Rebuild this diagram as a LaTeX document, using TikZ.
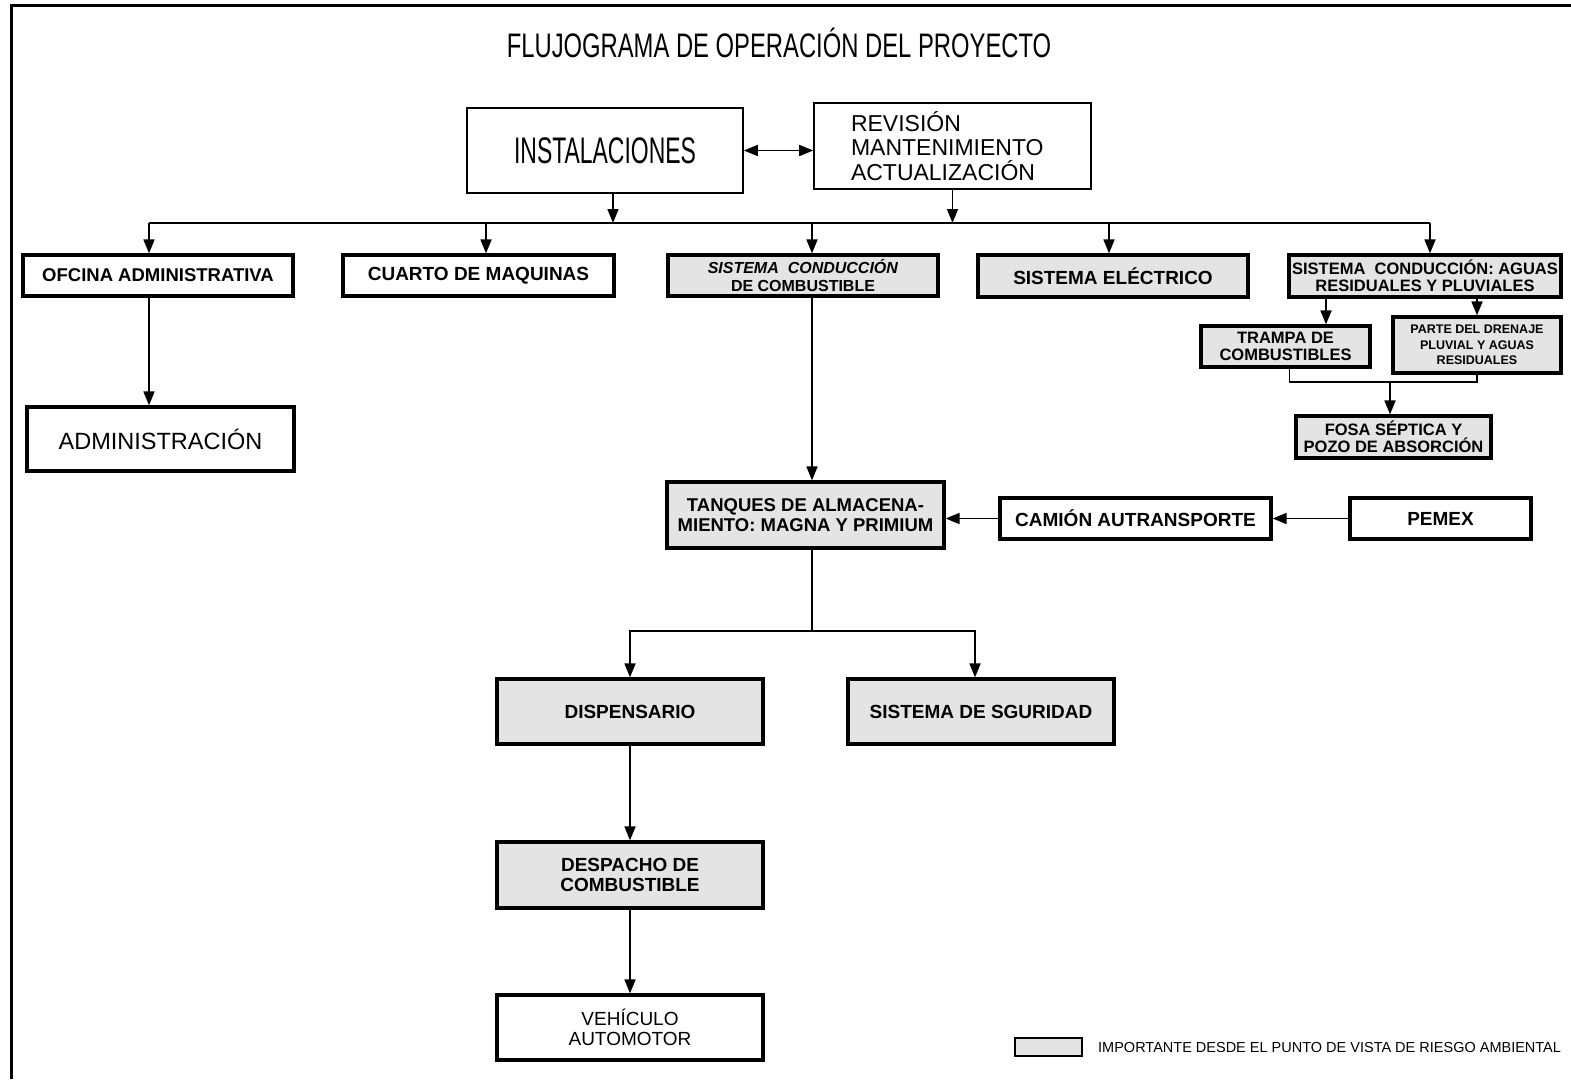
\documentclass[tikz,border=0pt]{standalone}
\usepackage{fontspec}
\setmainfont{Liberation Sans}
\newfontfamily\titlefont[FakeStretch=0.70]{Liberation Sans}
\newfontfamily\bigfont[FakeStretch=0.62]{Liberation Sans}
\usetikzlibrary{arrows.meta}
\definecolor{riskgray}{RGB}{228,228,228}

\begin{document}
\begin{tikzpicture}[x=1pt,y=-1pt]
		\tikzset{box/.style={draw, line width=3.2pt, inner sep=0pt, align=center, font=\bfseries\fontsize{19}{20}\selectfont}}
		\tikzset{risk/.style={box, fill=riskgray}}
		\tikzset{thinbox/.style={draw, line width=1.6pt, inner sep=0pt}}
		\tikzset{edge/.style={->, line width=1.7pt, > = {Triangle[length=14pt,width=11pt]}}}
		\tikzset{link/.style={line width=1.7pt}}
		\useasboundingbox (0,0) rectangle (1571,1079);
		%frame
		\draw[line width=3pt] (11,1079) -- (11,5) -- (1571,5);
		%title
		\node[font=\titlefont\fontsize{34}{36}\selectfont] (title) at (779,43) {FLUJOGRAMA DE OPERACIÓN DEL PROYECTO};
		%vertices
		\node[thinbox, minimum width=276, minimum height=85, font=\bigfont\fontsize{37}{40}\selectfont] (inst) at (605,150.5) {INSTALACIONES};
		\node[thinbox, inner xsep=37pt, text width=203pt, minimum height=86, align=left, font=\fontsize{23}{24.5}\selectfont] (rev) at (952.5,146) {REVISIÓN\\MANTENIMIENTO\\ACTUALIZACIÓN};
		\node[box, minimum width=270, minimum height=41, font=\bfseries\fontsize{18.5}{20}\selectfont] (ofc) at (158,275.5) {OFCINA ADMINISTRATIVA};
		\node[box, minimum width=271, minimum height=41] (cuarto) at (478.5,275.5) {CUARTO DE MAQUINAS};
		\node[risk, minimum width=270, minimum height=41, font=\bfseries\fontsize{16}{18}\selectfont] (scomb) at (803,275.5) {\textit{SISTEMA\ \ CONDUCCIÓN}\\DE COMBUSTIBLE};
		\node[risk, minimum width=270, minimum height=42] (selec) at (1113,276) {SISTEMA ELÉCTRICO};
		\node[risk, minimum width=272, minimum height=42, font=\bfseries\fontsize{16.5}{16.5}\selectfont] (saguas) at (1425,276) {SISTEMA\ \ CONDUCCIÓN: AGUAS\\RESIDUALES Y PLUVIALES};
		\node[risk, minimum width=169, minimum height=41, font=\bfseries\fontsize{16.5}{17}\selectfont] (trampa) at (1285.5,346.5) {TRAMPA DE\\COMBUSTIBLES};
		\node[risk, minimum width=168, minimum height=56, font=\bfseries\fontsize{12.5}{15.5}\selectfont] (parte) at (1477,345) {PARTE DEL DRENAJE\\PLUVIAL Y AGUAS\\RESIDUALES};
		\node[risk, minimum width=195, minimum height=42, font=\bfseries\fontsize{16.5}{16.5}\selectfont] (fosa) at (1393.5,437) {FOSA SÉPTICA Y\\POZO DE ABSORCIÓN};
		\node[box, minimum width=267, minimum height=64, font=\fontsize{23.5}{25}\selectfont] (admin) at (160.5,439) {ADMINISTRACIÓN};
		\node[risk, minimum width=277, minimum height=66, font=\bfseries\fontsize{18.5}{20}\selectfont] (tanq) at (805.5,515) {TANQUES DE ALMACENA-\\MIENTO: MAGNA Y PRIMIUM};
		\node[box, minimum width=271, minimum height=41] (camion) at (1135.5,518.5) {CAMIÓN AUTRANSPORTE};
		\node[box, minimum width=181, minimum height=41] (pemex) at (1440.5,518.5) {PEMEX};
		\node[risk, minimum width=266, minimum height=65] (disp) at (630,711.5) {DISPENSARIO};
		\node[risk, minimum width=266, minimum height=65] (segur) at (981,711.5) {SISTEMA DE SGURIDAD};
		\node[risk, minimum width=266, minimum height=66] (desp) at (630,875) {DESPACHO DE\\COMBUSTIBLE};
		\node[box, minimum width=266, minimum height=65, font=\fontsize{19}{20}\selectfont] (vehic) at (630,1027.5) {VEHÍCULO\\AUTOMOTOR};
		%legend
		\node[thinbox, fill=riskgray, line width=2pt, minimum width=67, minimum height=18] (key) at (1048.5,1047) {};
		\node[anchor=west, inner sep=0pt, font=\fontsize{14.5}{14.5}\selectfont] (keytext) at (1098,1047) {IMPORTANTE DESDE EL PUNTO DE VISTA DE RIESGO AMBIENTAL};
		%edges
		\coordinate (bus1) at (149,223);
		\coordinate (bus2) at (486,223);
		\coordinate (bus3) at (812,223);
		\coordinate (bus4) at (1109,223);
		\coordinate (bus5) at (1430,223);
		\draw[edge, <->] (inst.east) -- (inst.east -| rev.west);
		\draw[edge] ([xshift=8]inst.south) -- ([xshift=8]inst.south |- bus1);
		\draw[edge] (rev.south) -- (rev.south |- bus1);
		\draw[link] (bus1) -- (bus5);
		\foreach \b/\n in {bus1/ofc, bus2/cuarto, bus3/scomb, bus4/selec, bus5/saguas}
			\draw[edge] (\b) -- (\b |- \n.north);
		\draw[edge] (bus1 |- ofc.south) -- (bus1 |- admin.north);
		\draw[edge] (bus3 |- scomb.south) -- (bus3 |- tanq.north);
		%drainage
		\coordinate (tcol) at (1326,0);
		\coordinate (join) at (1390,382);
		\draw[edge] (saguas.south -| tcol) -- (trampa.north -| tcol);
		\draw[edge] (saguas.south -| parte.north) -- (parte.north);
		\draw[link] ([xshift=4]trampa.south) |- (join) -| (parte.south);
		\draw[edge] (join) -- (join |- fosa.north);
		%fuel supply
		\draw[edge] (camion.west) -- (camion.west -| tanq.east);
		\draw[edge] (pemex) -- (camion);
		\coordinate (split) at (812,631);
		\draw[link] (bus3 |- tanq.south) -- (split);
		\draw[edge] (split) -| (disp.north);
		\draw[edge] (split) -| ([xshift=-6]segur.north);
		\draw[edge] (disp) -- (desp);
		\draw[edge] (desp) -- (vehic);
\end{tikzpicture}
\end{document}
